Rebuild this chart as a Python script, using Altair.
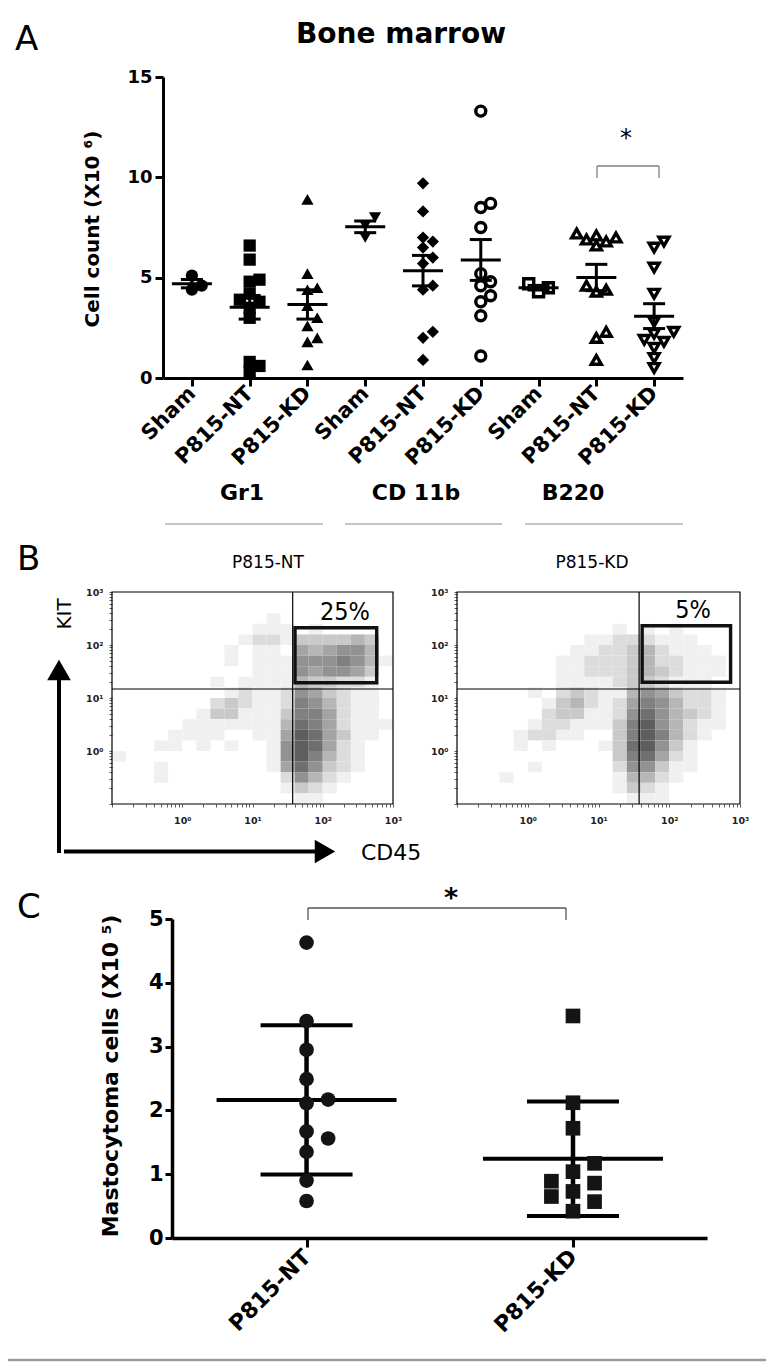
import math
import altair as alt
import pandas as pd

W, H = 758, 1354
FONT = "DejaVu Sans"
NARROW = "DejaVu Sans Condensed, Liberation Sans Narrow, sans-serif"

# ---------------- Panel A data (cell count x10^6) ----------------
marker_names = ["Gr1", "CD 11b", "B220"]
group_names = ["Sham", "P815-NT", "P815-KD"]
gr1_sham = [5.1, 4.6, 4.4]
gr1_nt = [6.6, 5.9, 4.9, 4.8, 4.2, 3.9, 3.8, 3.5, 3.0, 0.8, 0.6, 0.3]
gr1_kd = [8.9, 5.2, 4.5, 4.4, 3.6, 3.0, 2.6, 2.0, 1.8, 0.65]
cd11b_sham = [8.0, 7.6, 7.0]
cd11b_nt = [9.7, 8.3, 7.0, 6.8, 6.5, 6.0, 5.7, 4.6, 4.4, 2.3, 2.0, 0.9]
cd11b_kd = [13.3, 8.7, 8.5, 7.5, 5.2, 4.8, 4.6, 4.1, 3.8, 3.1, 1.1]
b220_sham = [4.7, 4.5, 4.3]
b220_nt = [7.2, 7.1, 7.0, 6.9, 6.8, 6.6, 4.6, 4.4, 4.3, 2.3, 2.0, 0.9]
b220_kd = [6.8, 6.5, 5.5, 4.2, 2.8, 2.3, 2.2, 1.9, 1.8, 1.5, 1.0, 0.5]
a_series = [gr1_sham, gr1_nt, gr1_kd, cd11b_sham, cd11b_nt, cd11b_kd,
            b220_sham, b220_nt, b220_kd]
a_shapes = ["circle", "square", "triangle-up", "triangle-down", "diamond",
            "circle", "square", "triangle-up", "triangle-down"]
a_filled = [True, True, True, True, True, False, False, False, False]
a_ticks = [0, 5, 10, 15]

# ---------------- Panel B data (flow density, 0.2-decade bins, rows top->bottom) ----------------
flow_nt_rows = [
    "00000000000000000000",
    "00000000000000000000",
    "00000000000100000000",
    "00000000001110100000",
    "00000000012213333430",
    "00000000101105456640",
    "00000000101116667641",
    "00000000001116566530",
    "00000001011114332210",
    "00000000121126532110",
    "00000002321127642110",
    "00000013311137752110",
    "00000111111148752111",
    "00001111001159853110",
    "00011010100169852100",
    "10000000000169742100",
    "00010000000158632100",
    "00010000000026421000",
    "00000000000013210000",
    "00000000000001100000",
]
flow_kd_rows = [
    "00000000000000000000",
    "00000000000000000000",
    "00000000000000000000",
    "00000000000101010000",
    "00000000011222111000",
    "00000000112234211100",
    "00000001122234221110",
    "00000001122234321110",
    "00000001111233211100",
    "00000102321146532210",
    "00000013421257642210",
    "00000023311268643210",
    "00000122111379642110",
    "00001221100379742100",
    "00001010001389631000",
    "00000000000378521000",
    "00000100000266311000",
    "00010000000144210000",
    "00000000000132100000",
    "00000000000011100000",
]
flow_titles = ["P815-NT", "P815-KD"]
flow_pct = ["25%", "5%"]
quad_x = [1.572, 1.574]
quad_y = [1.17, 1.17]
gate_x0 = [1.605, 1.617]
gate_x1 = [2.768, 2.867]
gate_y0 = [1.289, 1.296]
gate_y1 = [2.326, 2.364]

# ---------------- Panel C data (mastocytoma cells x10^5) ----------------
c_names = ["P815-NT", "P815-KD"]
c_nt = [4.63, 3.40, 2.95, 2.49, 2.11, 2.17, 1.67, 1.56, 1.35, 0.90, 0.58]
c_kd = [3.48, 2.12, 1.72, 1.17, 1.04, 0.89, 0.86, 0.73, 0.65, 0.57, 0.42]
c_ticks = [0, 1, 2, 3, 4, 5]


def dodge(vals, thr):
    """Beeswarm-like column assignment for overlapping points."""
    cols, res = {}, [0] * len(vals)
    for i in sorted(range(len(vals)), key=lambda j: vals[j]):
        for k in (0, 1, -1, 2, -2, 3, -3, 4, -4):
            if all(abs(vals[i] - vals[j]) >= thr for j in cols.get(k, [])):
                cols.setdefault(k, []).append(i)
                res[i] = k
                break
    return res


ONE = pd.DataFrame({"k": [0]})


def txt(s, x, y, size, weight="normal", align="center", baseline="alphabetic",
        angle=0, font=FONT, color="black"):
    return alt.Chart(ONE).mark_text(
        text=s, fontSize=size, fontWeight=weight, align=align, baseline=baseline,
        angle=angle, font=font, color=color
    ).encode(x=alt.value(x), y=alt.value(y))


def hrule(x1, x2, y, color="black", width=1.0):
    return alt.Chart(ONE).mark_rule(color=color, strokeWidth=width).encode(
        x=alt.value(x1), x2=alt.value(x2), y=alt.value(y))


def vrule(x, y1, y2, color="black", width=1.0):
    return alt.Chart(ONE).mark_rule(color=color, strokeWidth=width).encode(
        x=alt.value(x), y=alt.value(y1), y2=alt.value(y2))


layers = []

# ======================= PANEL A =======================
rows = []
for idx, vals in enumerate(a_series):
    offs = dodge(vals, 0.5)
    for v, k in zip(vals, offs):
        rows.append(dict(idx=idx, v=v, pos=idx + 0.17 * k,
                         shape=a_shapes[idx], filled=a_filled[idx]))
dfa = pd.DataFrame(rows)

xa = alt.Scale(domain=[-0.5, 8.5], range=[155, 675], nice=False, zero=False)
ya = alt.Scale(domain=[0, 15], range=[370, 69], nice=False, zero=False)

lab_expr_a = "[" + ",".join("'%s'" % g for g in group_names) + "][datum.value % 3]"
ax_a_x = alt.Axis(orient="bottom", offset=-(H - 370), values=list(range(9)),
                  labelExpr=lab_expr_a, labelAngle=-45, labelAlign="right",
                  labelBaseline="middle", labelFont=FONT, labelFontWeight="bold",
                  labelFontSize=21, labelColor="black", labelPadding=4,
                  labelFlush=False, labelOverlap=False, domainColor="black",
                  domainWidth=3, tickColor="black", tickWidth=3, tickSize=8,
                  grid=False, title=None)
ax_a_y = alt.Axis(orient="left", offset=-155, values=a_ticks, labelFont=FONT,
                  labelFontWeight="bold", labelFontSize=18, labelColor="black",
                  labelPadding=3, labelFlush=False, domainColor="black",
                  domainWidth=3, tickColor="black", tickWidth=3, tickSize=8,
                  grid=False, title=None)

pts_filled = alt.Chart(dfa).transform_filter("datum.filled").mark_point(
    filled=True, size=150, color="black", opacity=1
).encode(
    x=alt.X("pos:Q", scale=xa, axis=ax_a_x),
    y=alt.Y("v:Q", scale=ya, axis=ax_a_y),
    shape=alt.Shape("shape:N", scale=None, legend=None),
)
pts_open = alt.Chart(dfa).transform_filter("!datum.filled").mark_point(
    filled=False, size=100, stroke="black", strokeWidth=3.4, fill="white",
    fillOpacity=1, opacity=1
).encode(
    x=alt.X("pos:Q", scale=xa, axis=None),
    y=alt.Y("v:Q", scale=ya, axis=None),
    shape=alt.Shape("shape:N", scale=None, legend=None),
)
stats_a = alt.Chart(dfa).transform_aggregate(
    m="mean(v)", s="stderr(v)", groupby=["idx"]
).transform_calculate(lo="datum.m - datum.s", hi="datum.m + datum.s")
XA = alt.X("idx:Q", scale=xa, axis=None)
mean_a = stats_a.mark_tick(orient="horizontal", size=40, thickness=3,
                           color="black", opacity=1).encode(
    x=XA, y=alt.Y("m:Q", scale=ya, axis=None))
lo_a = stats_a.mark_tick(orient="horizontal", size=22, thickness=3,
                         color="black", opacity=1).encode(
    x=XA, y=alt.Y("lo:Q", scale=ya, axis=None))
hi_a = stats_a.mark_tick(orient="horizontal", size=22, thickness=3,
                         color="black", opacity=1).encode(
    x=XA, y=alt.Y("hi:Q", scale=ya, axis=None))
bar_a = stats_a.mark_rule(strokeWidth=3, color="black").encode(
    x=XA, y=alt.Y("lo:Q", scale=ya, axis=None), y2="hi:Q")

layers += [pts_filled, pts_open, bar_a, mean_a, lo_a, hi_a]

# annotations panel A
layers += [
    txt("A", 7, 42, 34, align="left"),
    txt("Bone marrow", 393, 35, 28, weight="bold"),
    txt("Cell count (X10 \u2076)", 85, 221, 20, weight="bold", angle=270,
        baseline="middle"),
    txt(marker_names[0], 234, 492, 22, weight="bold"),
    txt(marker_names[1], 408, 492, 22, weight="bold"),
    txt(marker_names[2], 565, 492, 22, weight="bold"),
    hrule(157, 315, 516, "#8a8a8a", 1.2),
    hrule(337, 494, 516, "#8a8a8a", 1.2),
    hrule(517, 675, 516, "#8a8a8a", 1.2),
    hrule(589, 651, 158, "#808080", 1.3),
    vrule(589, 158, 170, "#808080", 1.3),
    vrule(651, 158, 170, "#808080", 1.3),
    txt("*", 618, 138, 24),
]

# ======================= PANEL B =======================
flow_tick_vals = sorted(set([round(d + math.log10(k), 4)
                             for d in range(-1, 3) for k in range(1, 10)] + [3]))
flow_lab = ("abs(datum.value - round(datum.value)) < 0.001 && datum.value > -0.5 ? "
            "'10' + ['\u2070','\u00b9','\u00b2','\u00b3'][round(datum.value)] : ''")


def flow(i, rows_s, px0, px1):
    xs = alt.Scale(domain=[-1, 3], range=[px0, px1], nice=False, zero=False)
    ys = alt.Scale(domain=[-1, 3], range=[796, 584], nice=False, zero=False)
    cells = []
    for r, row in enumerate(rows_s):
        for c, ch in enumerate(row):
            d = int(ch)
            if d:
                x0 = -1 + 0.2 * c
                yt = 3 - 0.2 * r
                cells.append(dict(x0=x0, x1=x0 + 0.2, y0=yt - 0.2, y1=yt, d=d))
    dfd = pd.DataFrame(cells)
    axx = alt.Axis(orient="bottom", offset=-(H - 796), values=flow_tick_vals,
                   labelExpr=flow_lab, labelFont=FONT, labelFontSize=9.5,
                   labelFontWeight="bold", labelColor="#222", labelPadding=8,
                   labelFlush=False, labelOverlap=False, domain=False,
                   tickColor="#333", tickWidth=0.8, tickSize=3, grid=False,
                   title=None)
    axy = alt.Axis(orient="left", offset=-px0, values=flow_tick_vals,
                   labelExpr=flow_lab, labelFont=FONT, labelFontSize=9.5,
                   labelFontWeight="bold", labelColor="#222", labelPadding=6,
                   labelFlush=False, labelOverlap=False, domain=False,
                   tickColor="#333", tickWidth=0.8, tickSize=3, grid=False,
                   title=None)
    dens = alt.Chart(dfd).mark_rect(strokeWidth=0).encode(
        x=alt.X("x0:Q", scale=xs, axis=axx), x2="x1:Q",
        y=alt.Y("y0:Q", scale=ys, axis=axy), y2="y1:Q",
        color=alt.Color("d:Q", scale=alt.Scale(domain=[1, 9],
                        range=["#f0f0f0", "#5e5e5e"]), legend=None),
    )
    geo = pd.DataFrame({"lo": [-1], "hi": [3], "qx": [quad_x[i]], "qy": [quad_y[i]],
                        "gx0": [gate_x0[i]], "gx1": [gate_x1[i]],
                        "gy0": [gate_y0[i]], "gy1": [gate_y1[i]]})
    base = alt.Chart(geo)
    frame = base.mark_rect(fill="white", fillOpacity=0, stroke="black",
                           strokeWidth=1.2).encode(
        x=alt.X("lo:Q", scale=xs, axis=None), x2="hi:Q",
        y=alt.Y("lo:Q", scale=ys, axis=None), y2="hi:Q")
    vq = base.mark_rule(color="black", strokeWidth=1.2).encode(
        x=alt.X("qx:Q", scale=xs, axis=None),
        y=alt.Y("lo:Q", scale=ys, axis=None), y2="hi:Q")
    hq = base.mark_rule(color="black", strokeWidth=1.2).encode(
        y=alt.Y("qy:Q", scale=ys, axis=None),
        x=alt.X("lo:Q", scale=xs, axis=None), x2="hi:Q")
    gate = base.mark_rect(fill="white", fillOpacity=0, stroke="#111",
                          strokeWidth=3.4).encode(
        x=alt.X("gx0:Q", scale=xs, axis=None), x2="gx1:Q",
        y=alt.Y("gy0:Q", scale=ys, axis=None), y2="gy1:Q")
    return [dens, frame, vq, hq, gate]


layers += flow(0, flow_nt_rows, 104, 385)
layers += flow(1, flow_kd_rows, 449, 732)

layers += [
    txt("B", 9, 562, 34, align="left"),
    txt(flow_titles[0], 260, 560, 17),
    txt(flow_titles[1], 584, 560, 17),
    txt(flow_pct[0], 337, 612, 25, font=NARROW),
    txt(flow_pct[1], 685, 610, 25, font=NARROW),
    txt("KIT", 57, 606, 20, angle=270, baseline="middle"),
    txt("CD45", 353, 852, 22, align="left"),
    vrule(51, 668, 845, "black", 4),
    hrule(56, 312, 843.5, "black", 4),
    alt.Chart(ONE).mark_point(shape="triangle-up", filled=True, size=560,
                              color="black", opacity=1).encode(
        x=alt.value(51), y=alt.value(662)),
    alt.Chart(ONE).mark_point(shape="triangle-right", filled=True, size=560,
                              color="black", opacity=1).encode(
        x=alt.value(317), y=alt.value(843.5)),
]

# ======================= PANEL C =======================
rows = []
for idx, vals in enumerate([c_nt, c_kd]):
    offs = dodge(vals, 0.235)
    for v, k in zip(vals, offs):
        rows.append(dict(idx=idx, v=v, pos=idx + 0.081 * k,
                         shape=["circle", "square"][idx]))
dfc = pd.DataFrame(rows)

xc = alt.Scale(domain=[-0.505, 1.503], range=[164, 699], nice=False, zero=False)
yc = alt.Scale(domain=[0, 5], range=[1230, 911], nice=False, zero=False)
lab_expr_c = "[" + ",".join("'%s'" % g for g in c_names) + "][datum.value]"
ax_c_x = alt.Axis(orient="bottom", offset=-(H - 1230), values=[0, 1],
                  labelExpr=lab_expr_c, labelAngle=-45, labelAlign="right",
                  labelBaseline="middle", labelFont=FONT, labelFontWeight="bold",
                  labelFontSize=22, labelColor="black", labelPadding=6,
                  labelFlush=False, labelOverlap=False, domainColor="black",
                  domainWidth=3.5, tickColor="black", tickWidth=3, tickSize=9,
                  grid=False, title=None)
ax_c_y = alt.Axis(orient="left", offset=-164, values=c_ticks, labelFont=FONT,
                  labelFontWeight="bold", labelFontSize=21, labelColor="black",
                  labelPadding=2, labelFlush=False, domainColor="black",
                  domainWidth=3.5, tickColor="black", tickWidth=3, tickSize=7,
                  grid=False, title=None)

stats_c = alt.Chart(dfc).transform_aggregate(
    m="mean(v)", s="stdev(v)", groupby=["idx"]
).transform_calculate(lo="datum.m - datum.s", hi="datum.m + datum.s")
XC = alt.X("idx:Q", scale=xc, axis=None)
bar_c = stats_c.mark_rule(strokeWidth=4.5, color="black").encode(
    x=XC, y=alt.Y("lo:Q", scale=yc, axis=None), y2="hi:Q")
mean_c = stats_c.mark_tick(orient="horizontal", size=180, thickness=4,
                           color="black", opacity=1).encode(
    x=XC, y=alt.Y("m:Q", scale=yc, axis=None))
lo_c = stats_c.mark_tick(orient="horizontal", size=92, thickness=4,
                         color="black", opacity=1).encode(
    x=XC, y=alt.Y("lo:Q", scale=yc, axis=None))
hi_c = stats_c.mark_tick(orient="horizontal", size=92, thickness=4,
                         color="black", opacity=1).encode(
    x=XC, y=alt.Y("hi:Q", scale=yc, axis=None))
pts_c = alt.Chart(dfc).mark_point(filled=True, size=215, color="#141414",
                                  opacity=1).encode(
    x=alt.X("pos:Q", scale=xc, axis=ax_c_x),
    y=alt.Y("v:Q", scale=yc, axis=ax_c_y),
    shape=alt.Shape("shape:N", scale=None, legend=None),
)
layers += [bar_c, mean_c, lo_c, hi_c, pts_c]

layers += [
    txt("C", 9, 910, 34, align="left"),
    txt("Mastocytoma cells (X10 \u2075)", 103, 1068, 22, weight="bold",
        angle=270, baseline="middle"),
    hrule(300, 558, 900, "#555", 1.3),
    vrule(300, 900, 912, "#555", 1.3),
    vrule(558, 900, 912, "#555", 1.3),
    txt("*", 443, 899, 27, weight="bold"),
    hrule(0, W, 1352, "#9a9a9a", 2.5),
]

chart = alt.layer(*layers).resolve_scale(
    x="independent", y="independent", color="independent", shape="independent"
).resolve_axis(
    x="independent", y="independent"
).properties(
    width=W, height=H, padding=0, autosize=alt.AutoSizeParams(type="none"),
    background="white"
).configure_view(stroke=None)

chart.save("out.html", embed_options={"renderer": "svg", "actions": False})
